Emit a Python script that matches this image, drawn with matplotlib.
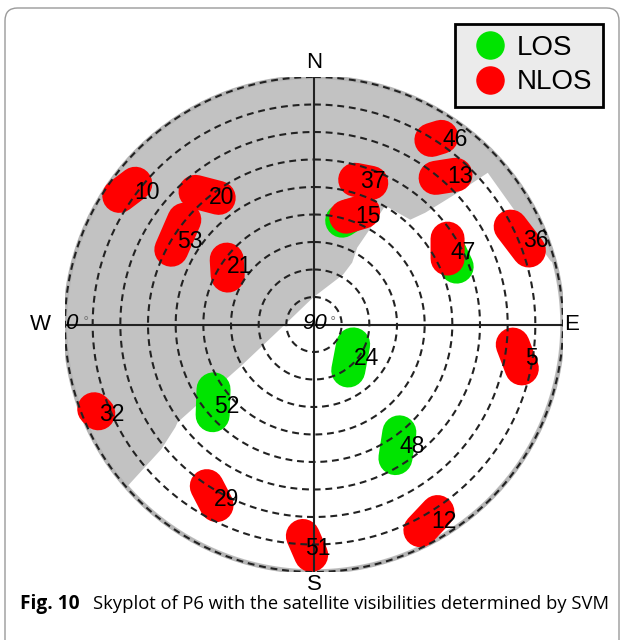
import numpy as np
import matplotlib
matplotlib.use('Agg')
import matplotlib.pyplot as plt
from matplotlib.lines import Line2D
from matplotlib.patches import FancyBboxPatch, Polygon

# Satellite tracks (azimuth deg, elevation deg) classified by SVM
nlos_prn = ['10', '20', '53', '21', '37', '15', '46', '13', '47', '36', '5', '12', '51', '29', '32']
nlos_az = [[303.6, 308.4], [318.4, 323.2], [309.1, 297.8], [306.8, 299.7], [15.8, 21.9],
           [16.5, 23.4], [32.3, 34.0], [39.5, 43.2], [57.1, 63.6], [63.4, 70.9],
           [95.8, 102.0], [146.8, 152.8], [183.0, 180.7], [213.4, 208.2], [248.8, 247.5]]
nlos_el = [[5.5, 7.6], [25.5, 32.5], [29.6, 31.7], [50.6, 54.1], [35.3, 34.5],
           [49.1, 45.3], [10.6, 7.7], [20.9, 15.3], [32.5, 36.1], [10.5, 7.8],
           [17.8, 13.2], [8.5, 5.9], [13.0, 6.2], [19.6, 15.5], [4.8, 5.6]]

los_prn = ['15', '47', '24', '48', '52']
los_az = [[15.1, 18.3], [61.6, 67.8], [117.1, 143.5], [141.8, 148.8], [237.0, 228.0]]
los_el = [[50.9, 48.3], [34.3, 34.3], [74.1, 69.2], [40.1, 33.2], [46.7, 40.7]]

# PRN label positions
label_prn = ['10', '20', '53', '21', '37', '15', '46', '13', '47', '36', '5', '24', '48', '12', '51', '29', '52', '32']
label_az = [308.5, 324.1, 303.8, 308.1, 22.1, 26.6, 37.3, 44.4, 64.2, 69.2, 98.9, 123.2, 141.2, 146.9, 179.0, 206.4, 226.7, 246.0]
label_el = [13.0, 33.1, 35.9, 55.9, 34.0, 46.2, 5.6, 14.8, 30.0, 4.2, 10.3, 67.5, 33.2, 4.3, 8.4, 19.1, 46.6, 9.8]

# open sky boundary (building mask), NE edge -> zenith -> SW edge
sky_az = [75.1, 48.7, 47.3, 44.7, 42.4, 30.8, 30.1, 29.2, 31.5, 30.1, 357.9, 270.0, 240.6, 234.2, 233.3, 230.6, 228.9]
sky_el = [1.3, 6.4, 19.4, 32.8, 38.4, 39.7, 51.0, 58.0, 63.6, 69.0, 80.2, 79.5, 60.4, 29.2, 27.5, 18.6, 0.5]


def to_xy(az, el):
    az = np.radians(np.asarray(az, dtype=float))
    r = 90 - np.asarray(el, dtype=float)
    return r * np.sin(az), r * np.cos(az)


fig = plt.figure(figsize=(6.24, 6.40), dpi=100)
ax = fig.add_axes([65 / 624, 68 / 640, 498 / 624, 495 / 640])
ax.set_xlim(-90, 90)
ax.set_ylim(-90, 90)
ax.set_aspect('auto')
ax.axis('off')

# frame around the figure
fig.patches.append(FancyBboxPatch((5 / 624, -0.05), 614 / 624, 1.05 - 8 / 640,
                                  boxstyle='round,pad=0,rounding_size=0.02',
                                  transform=fig.transFigure, fill=False,
                                  edgecolor='#9a9a9a', linewidth=1.0))

t = np.linspace(0, 2 * np.pi, 400)
# gray obstructed sky
ax.fill(90 * np.sin(t), 90 * np.cos(t), color='#c2c2c2', zorder=1)
ax.plot(90 * np.sin(t), 90 * np.cos(t), color='#b5b5b5', lw=3, zorder=1)

# white open sky region
bx, by = to_xy(sky_az, sky_el)
arc_az = np.linspace(sky_az[-1], sky_az[0], 200)
ax_, ay_ = to_xy(arc_az, np.full_like(arc_az, 1.0))
ax.add_patch(Polygon(np.column_stack([np.r_[bx, ax_], np.r_[by, ay_]]),
                     closed=True, facecolor='white', edgecolor='none', zorder=2))

# tracks
for az, el in zip(los_az, los_el):
    x, y = to_xy(az, el)
    ax.plot(x, y, color='#00e400', lw=24.5, solid_capstyle='round', zorder=3)
for az, el in zip(nlos_az, nlos_el):
    x, y = to_xy(az, el)
    ax.plot(x, y, color='#ff0000', lw=24.5, solid_capstyle='round', zorder=4)

# elevation rings
for r in range(10, 100, 10):
    ax.plot(r * np.sin(t), r * np.cos(t), color='#222222', lw=1.5,
            linestyle=(0, (3.3, 2.3)), zorder=5)
ax.plot([-90, 90], [0, 0], color='#222222', lw=1.5, zorder=6)
ax.plot([0, 0], [-90, 90], color='#222222', lw=1.5, zorder=6)

for prn, az, el in zip(label_prn, label_az, label_el):
    x, y = to_xy(az, el)
    ax.text(x, y, prn, fontsize=16.5, family='Liberation Sans', ha='center', va='center', zorder=7)

ax.text(0, 95.1, 'N', fontsize=16, family='Liberation Sans', ha='center', va='center', clip_on=False)
ax.text(0, -94.5, 'S', fontsize=16, family='Liberation Sans', ha='center', va='center', clip_on=False)
ax.text(-99, 0, 'W', fontsize=16, family='Liberation Sans', ha='center', va='center', clip_on=False)
ax.text(93.2, 0, 'E', fontsize=16, family='Liberation Sans', ha='center', va='center', clip_on=False)
ax.text(-87.8, 0.3, '0', fontsize=16, style='italic', family='Liberation Sans', ha='center', va='center', zorder=7)
ax.text(-82.5, 1.2, '°', fontsize=9, color='#777777', ha='center', va='center', zorder=7)
ax.text(0.3, 0.3, '90', fontsize=16, style='italic', family='Liberation Sans', ha='center', va='center', zorder=7)
ax.text(6.8, 1.2, '°', fontsize=9, color='#777777', ha='center', va='center', zorder=7)

handles = [Line2D([], [], marker='o', linestyle='none', markersize=19.5, color='#00e400', label='LOS'),
           Line2D([], [], marker='o', linestyle='none', markersize=19.5, color='#ff0000', label='NLOS')]
leg = ax.legend(handles=handles, loc='upper right', bbox_to_anchor=(603 / 624, 1 - 24 / 640),
                bbox_transform=fig.transFigure, fancybox=False, framealpha=1,
                facecolor='#ebebeb', edgecolor='black', prop={'family': 'Liberation Sans', 'size': 20},
                handletextpad=0.12, labelspacing=0.3, borderpad=0.4, handlelength=1.68, borderaxespad=0)
leg.get_frame().set_linewidth(2)

fig.text(20 / 624, 1 - 609 / 640, 'Fig. 10', fontsize=13.8, fontweight='bold', family='Open Sans', va='baseline')
fig.text(93 / 624, 1 - 609 / 640, 'Skyplot of P6 with the satellite visibilities determined by SVM',
         fontsize=13.25, family='Open Sans', va='baseline')

fig.savefig('out.png', dpi=100)
